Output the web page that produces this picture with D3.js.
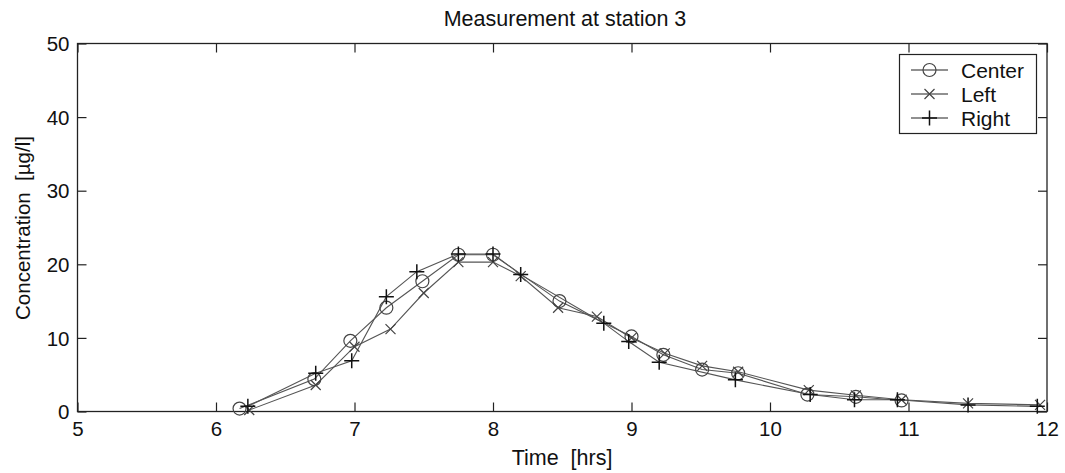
<!DOCTYPE html>
<html><head><meta charset="utf-8">
<script src="https://cdn.jsdelivr.net/npm/d3@7"></script>
<style>body{margin:0;background:#fff}svg{font-family:"Liberation Sans",Arial,sans-serif}text{white-space:pre}</style>
</head><body><svg id="c" width="1065" height="473"></svg>
<script>
const centerT = [6.17,6.71,6.97,7.23,7.49,7.75,8.0,8.48,9.0,9.23,9.51,9.77,10.27,10.62,10.95];
const centerV = [0.4,4.4,9.6,14.1,17.7,21.3,21.3,15.0,10.2,7.7,5.7,5.2,2.3,2.0,1.5];
const leftT = [6.24,6.72,7.0,7.26,7.5,7.75,8.0,8.2,8.47,8.75,9.0,9.24,9.51,9.77,10.28,10.62,10.95,11.43,11.95];
const leftV = [0.2,3.6,8.8,11.2,16.1,20.3,20.3,18.4,14.1,12.9,10.0,7.9,6.2,5.4,2.9,2.2,1.6,1.1,0.9];
const rightT = [6.23,6.72,6.98,7.23,7.45,7.75,8.0,8.2,8.8,8.98,9.2,9.75,10.29,10.61,10.92,11.43,11.93];
const rightV = [0.7,5.2,6.9,15.6,19.0,21.4,21.4,18.6,12.0,9.5,6.7,4.3,2.3,1.6,1.6,0.9,0.7];
const xTicks = [5,6,7,8,9,10,11,12];
const yTicks = [0,10,20,30,40,50];
const seriesNames = ["Center","Left","Right"];

const svg = d3.select("#c");
const L=77.5, R=1047, T=43.5, B=411.5;
const x = d3.scaleLinear().domain([5,12]).range([L,R]);
const y = d3.scaleLinear().domain([0,50]).range([B,T]);
const ink="#222";

svg.append("rect").attr("x",L).attr("y",T).attr("width",R-L).attr("height",B-T)
  .attr("fill","none").attr("stroke",ink).attr("stroke-width",1.3);
const tl=9;
const gb = svg.append("g").attr("transform",`translate(0,${B})`)
  .call(d3.axisBottom(x).tickValues(xTicks).tickSizeInner(-tl).tickSizeOuter(0).tickPadding(10).tickFormat(d3.format("d")));
const gt = svg.append("g").attr("transform",`translate(0,${T})`)
  .call(d3.axisTop(x).tickValues(xTicks).tickSizeInner(-tl).tickSizeOuter(0).tickFormat(""));
const gl = svg.append("g").attr("transform",`translate(${L},0)`)
  .call(d3.axisLeft(y).tickValues(yTicks).tickSizeInner(-tl).tickSizeOuter(0).tickPadding(8).tickFormat(d3.format("d")));
const gr = svg.append("g").attr("transform",`translate(${R},0)`)
  .call(d3.axisRight(y).tickValues(yTicks).tickSizeInner(-tl).tickSizeOuter(0).tickFormat(""));
[gb,gt,gl,gr].forEach(g=>{g.select(".domain").remove();g.selectAll("line").attr("stroke",ink).attr("stroke-width",1.2);
  g.selectAll("text").attr("fill","#111").style("font-size","20.5px").style("font-family","Liberation Sans, Arial, sans-serif");});
gb.selectAll("text").attr("dy","0.71em");
gl.selectAll("text").attr("dy","0.35em");

const line = d3.line().x(d=>x(d[0])).y(d=>y(d[1]));
function zip(a,b){return a.map((t,i)=>[t,b[i]]);}
const series=[{name:seriesNames[0],data:zip(centerT,centerV),m:"o"},
              {name:seriesNames[1],data:zip(leftT,leftV),m:"x"},
              {name:seriesNames[2],data:zip(rightT,rightV),m:"+"}];
function marker(g,type,cx,cy){
  if(type==="o") g.append("circle").attr("cx",cx).attr("cy",cy).attr("r",6.5).attr("fill","none").attr("stroke","#444").attr("stroke-width",1.2);
  else if(type==="x"){const s=5;g.append("path").attr("d",`M${cx-s},${cy-s}L${cx+s},${cy+s}M${cx-s},${cy+s}L${cx+s},${cy-s}`).attr("stroke","#444").attr("stroke-width",1.2);}
  else {const s=7.5;g.append("path").attr("d",`M${cx-s},${cy}L${cx+s},${cy}M${cx},${cy-s}L${cx},${cy+s}`).attr("stroke","#111").attr("stroke-width",1.5);}
}
series.forEach(s=>{
  svg.append("path").datum(s.data).attr("d",line).attr("fill","none").attr("stroke","#555").attr("stroke-width",1.1);
});
series.forEach(s=>{
  const g=svg.append("g");
  s.data.forEach(d=>marker(g,s.m,x(d[0]),y(d[1])));
});

const lg=svg.append("g");
lg.append("rect").attr("x",899.5).attr("y",54.5).attr("width",137).attr("height",79).attr("fill","#fff").attr("stroke",ink).attr("stroke-width",1.2);
series.forEach((s,i)=>{
  const yy=70+i*24;
  lg.append("line").attr("x1",911).attr("x2",948).attr("y1",yy).attr("y2",yy).attr("stroke","#222").attr("stroke-width",1.1);
  marker(lg,s.m,929.5,yy);
  lg.append("text").attr("x",961).attr("y",yy).attr("dy","0.36em").style("font-size","21px").attr("fill","#111").text(s.name);
});

svg.append("text").attr("x",565).attr("y",18).attr("dy","0.35em").attr("text-anchor","middle").style("font-size","21.5px").attr("fill","#111").text("Measurement at station 3");
svg.append("text").attr("x",562).attr("y",457).attr("dy","0.35em").attr("text-anchor","middle").style("font-size","21.5px").attr("fill","#111").text("Time  [hrs]");
svg.append("text").attr("transform","translate(23,228) rotate(-90)").attr("dy","0.35em").attr("text-anchor","middle").style("font-size","20.5px").attr("fill","#111").text("Concentration  [µg/l]");
</script></body></html>
